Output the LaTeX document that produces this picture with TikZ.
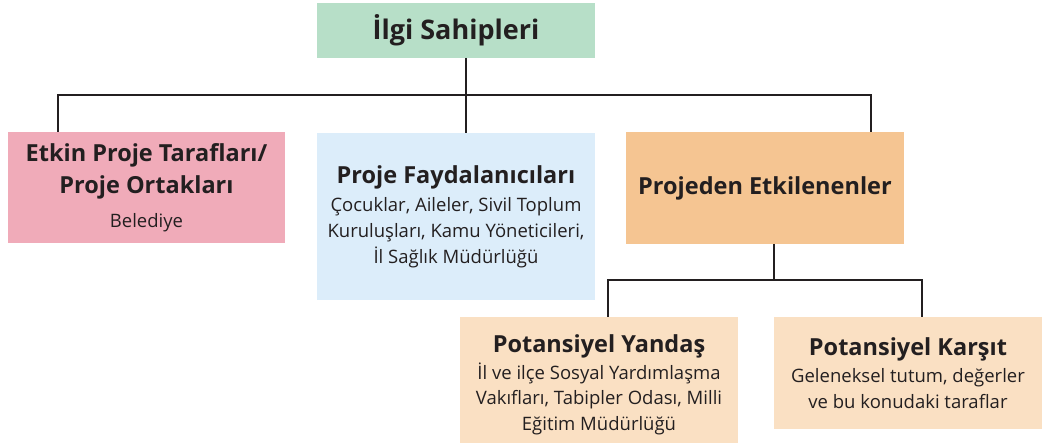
\documentclass[tikz,border=0pt]{standalone}
\usepackage{fontspec}
\setmainfont{Open Sans}
\definecolor{cgreen}{HTML}{B7DFC8}
\definecolor{cpink}{HTML}{F0ABB9}
\definecolor{cblue}{HTML}{DCEDFA}
\definecolor{corange}{HTML}{F5C592}
\definecolor{clight}{HTML}{FAE0C3}
\definecolor{ctext}{HTML}{231F20}
\newcommand{\hdfont}{\fontsize{23.5}{25.7}\selectfont\bfseries}
\newcommand{\bdfont}{\fontsize{18.5}{25.7}\selectfont}
\begin{document}
\begin{tikzpicture}[x=1pt,y=-1pt,
  box/.style={inner sep=0pt, outer sep=0pt, align=center, text=ctext, anchor=north west, font=\bdfont},
  conn/.style={draw=ctext, line width=1.1pt}]
\useasboundingbox (0,0) rectangle (1042,446);
% boxes
\node[box, fill=cgreen, minimum width=278pt, minimum height=55pt] (top) at (317,3)
  {\fontsize{27}{30}\selectfont\bfseries İlgi Sahipleri};
\node[box, fill=cpink, minimum width=277pt, minimum height=111pt] (pink) at (8,132)
  {\hdfont Etkin Proje Tarafları/\\[7pt]\hdfont Proje Ortakları\\[8pt]Belediye};
\node[box, fill=cblue, minimum width=278pt, minimum height=167pt] (blue) at (317,133)
  {\hdfont Proje Faydalanıcıları\\[3pt]Çocuklar, Aileler, Sivil Toplum\\Kuruluşları, Kamu Yöneticileri,\\İl Sağlık Müdürlüğü};
\node[box, fill=corange, minimum width=278pt, minimum height=112pt] (orange) at (626,132)
  {\hdfont Projeden Etkilenenler};
\node[box, fill=clight, minimum width=278pt, minimum height=126pt] (yandas) at (460,317)
  {\mbox{}\\[2pt]\hdfont Potansiyel Yandaş\\[1pt]İl ve ilçe Sosyal Yardımlaşma\\Vakıfları, Tabipler Odası, Milli\\Eğitim Müdürlüğü};
\node[box, fill=clight, minimum width=268pt, minimum height=112pt] (karsit) at (774,317)
  {\hdfont Potansiyel Karşıt\\[2pt]Geleneksel tutum, değerler\\ve bu konudaki taraflar};
% connector coordinates
\coordinate (spine) at (466,95);
\coordinate (xl) at (58,95);
\coordinate (xr) at (871,95);
\coordinate (spine2) at (774,280);
\coordinate (xl2) at (608,280);
\coordinate (xr2) at (922,280);
% connectors
\draw[conn] (top.south -| spine) -- (blue.north -| spine);
\draw[conn] (pink.north -| xl) -- (xl) -- (xr) -- (orange.north -| xr);
\draw[conn] (orange.south -| spine2) -- (spine2);
\draw[conn] (yandas.north -| xl2) -- (xl2) -- (xr2) -- (karsit.north -| xr2);
\end{tikzpicture}
\end{document}
